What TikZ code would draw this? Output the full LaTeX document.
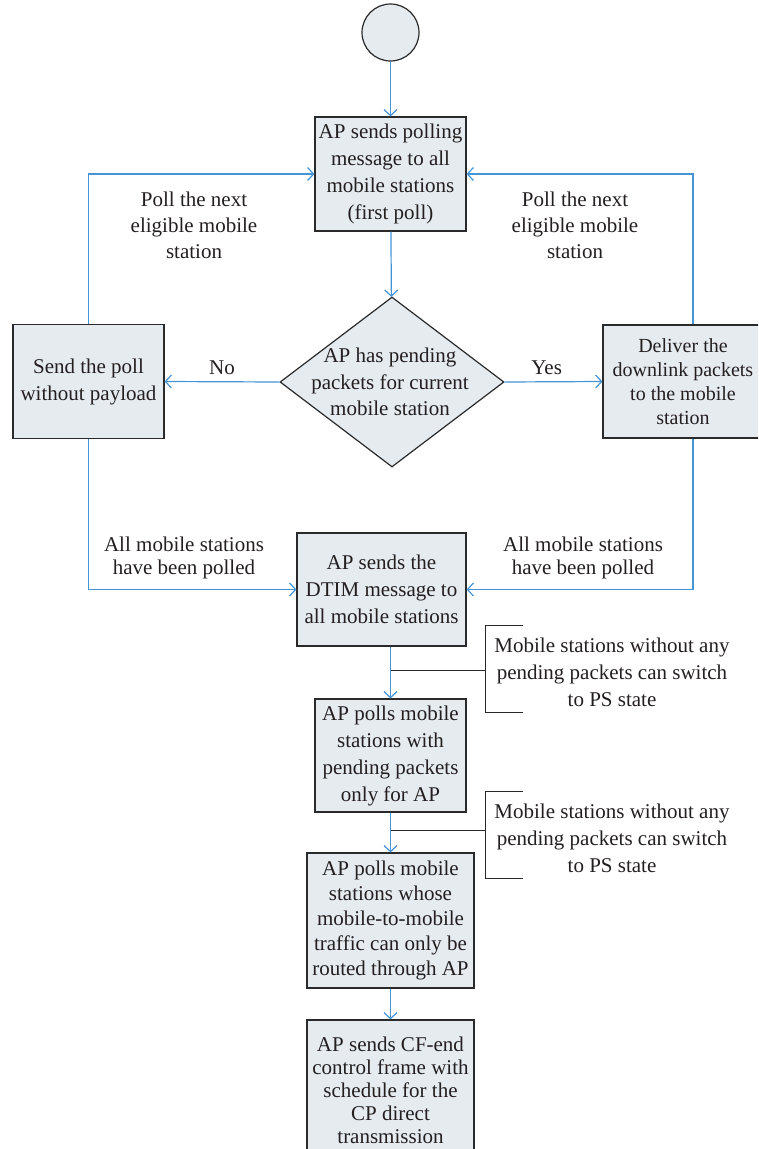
\documentclass[tikz,border=0pt]{standalone}
\usepackage{fontspec}
\setmainfont{Liberation Serif}
\usetikzlibrary{arrows.meta,shapes.geometric,calc}
\definecolor{boxfill}{HTML}{E6EBEF}
\definecolor{edge}{HTML}{2A2A2A}
\definecolor{flow}{HTML}{4494D6}
\definecolor{ink}{HTML}{231F20}
\begin{document}
\begin{tikzpicture}[x=1pt,y=-1pt,
  every node/.style={text=ink, font=\fontsize{21}{27}\selectfont},
  procbox/.style={draw=edge, fill=boxfill, line width=1.2pt, rectangle, align=center, inner sep=0pt},
  flowline/.style={draw=flow, line width=1.2pt, -{Straight Barb[length=6pt,width=13pt]}},
  bracket/.style={draw=edge, line width=1pt},
  lbl/.style={align=center, inner sep=0pt}]
\path[use as bounding box, clip] (0,0) rectangle (758,1149);

% start
\node[circle, draw=edge, fill=boxfill, line width=1.2pt, minimum size=57pt, inner sep=0pt] (start) at (390.5,32.5) {};

% boxes
\node[procbox, minimum width=151pt, minimum height=114pt] (b1) at (390.5,174) {AP sends polling\\message to all\\mobile stations\\(first poll)};
\node[diamond, draw=edge, fill=boxfill, line width=1.2pt, minimum width=224pt, minimum height=170pt, inner sep=0pt] (dia) at (392,382) {};
\node[lbl, font=\fontsize{21}{26.5}\selectfont] (diat) at (390,382) {AP has pending\\packets for current\\mobile station};
\node[procbox, minimum width=151pt, minimum height=114pt] (lb) at (88.5,381.5) {Send the poll\\without payload};
\node[procbox, minimum width=160pt, minimum height=113pt, font=\fontsize{20}{24}\selectfont] (rb) at (683,381.5) {Deliver the\\downlink packets\\to the mobile\\station};
\node[procbox, minimum width=169pt, minimum height=113pt] (dtim) at (381.5,589.5) {AP sends the\\DTIM message to\\all mobile stations};
\node[procbox, minimum width=151pt, minimum height=113pt] (b3) at (390.5,755.5) {AP polls mobile\\stations with\\pending packets\\only for AP};
\node[procbox, minimum width=167pt, minimum height=135pt, font=\fontsize{21}{25}\selectfont] (b4) at (390.5,920.5) {AP polls mobile\\stations whose\\mobile-to-mobile\\traffic can only be\\routed through AP};
\node[procbox, minimum width=167pt, minimum height=140pt, text depth=0pt, font=\fontsize{21}{23}\selectfont] (b5) at (390.5,1090) {AP sends CF-end\\control frame with\\schedule for the\\CP direct\\transmission};

% connectors
\draw[flowline] (start) -- (b1);
\draw[flowline] (b1) -- (dia);
\draw[flowline] (dia.west) -- (lb.east) node[midway, above=6pt, inner sep=0pt] (no) {No};
\draw[flowline] (dia.east) -- (rb.west) node[pos=0.43, above=6pt, inner sep=0pt] (yes) {Yes};
\draw[flowline] (lb.north) |- (b1.west);
\draw[flowline] ([xshift=10pt]rb.north) |- (b1.east);
\draw[flowline] (lb.south) |- (dtim.west);
\draw[flowline] ([xshift=10pt]rb.south) |- (dtim.east);
\draw[flowline] (dtim.south -| b3.north) -- (b3.north);
\draw[flowline] (b3) -- (b4);
\draw[flowline] (b4) -- (b5);

% side labels
\node[lbl, font=\fontsize{21}{26}\selectfont] (pl) at (194,225) {Poll the next\\eligible mobile\\station};
\node[lbl, font=\fontsize{21}{26}\selectfont] (pr) at (575,225) {Poll the next\\eligible mobile\\station};
\node[lbl, font=\fontsize{21}{23}\selectfont] (al) at (184,558) {All mobile stations\\have been polled};
\node[lbl, font=\fontsize{21}{23}\selectfont] (ar) at (583,558) {All mobile stations\\have been polled};

% annotation brackets
\coordinate (j1) at (390.5,670);
\coordinate (k1) at (485,670);
\draw[bracket] (j1) -- (k1);
\draw[bracket] (523,625) -- (485,625) -- (485,712) -- (523,712);
\node[lbl] (n1) at (612,672) {Mobile stations without any\\pending packets can switch\\to PS state};

\coordinate (j2) at (390.5,830);
\coordinate (k2) at (485,830);
\draw[bracket] (j2) -- (k2);
\draw[bracket] (523,791) -- (485,791) -- (485,878) -- (523,878);
\node[lbl] (n2) at (612,838) {Mobile stations without any\\pending packets can switch\\to PS state};
\end{tikzpicture}
\end{document}
